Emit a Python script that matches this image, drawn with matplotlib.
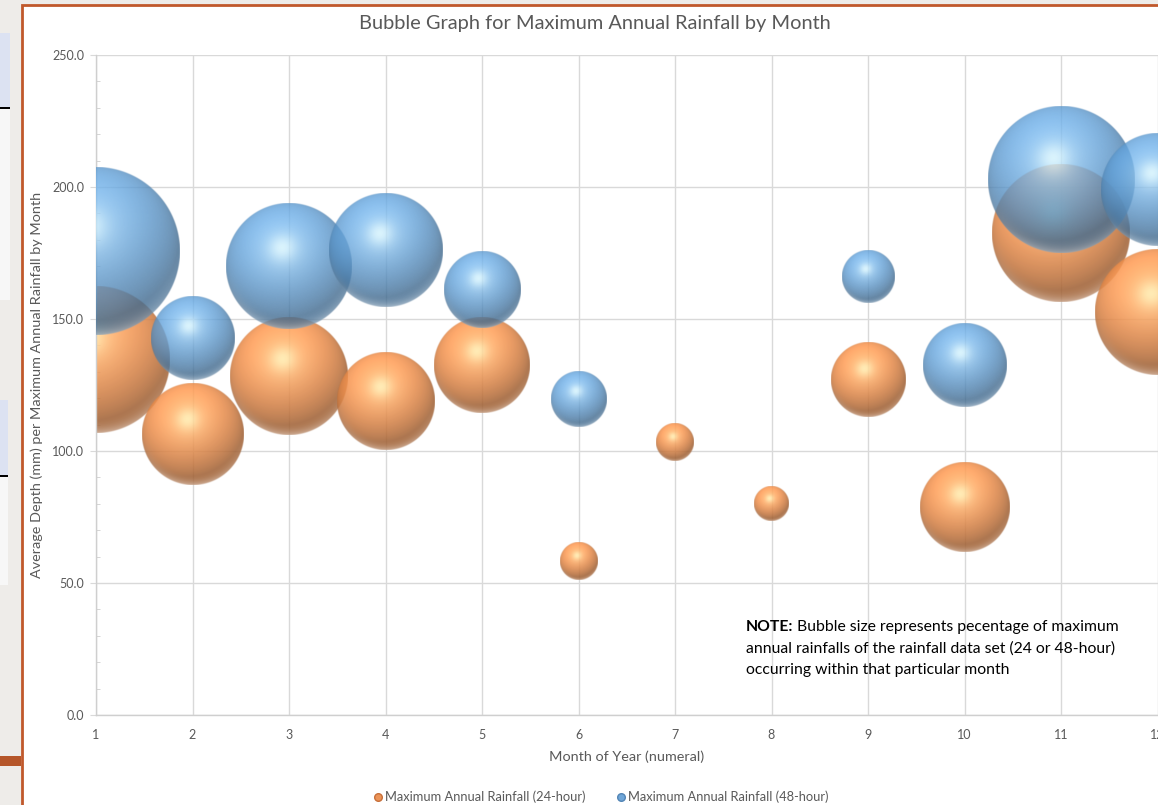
import numpy as np
import matplotlib
matplotlib.use("Agg")
import matplotlib.pyplot as plt
from matplotlib.patches import Rectangle
from matplotlib.lines import Line2D
from matplotlib.ticker import MultipleLocator, FormatStrFormatter

# ---- data -------------------------------------------------------------
months = np.arange(1, 13)
# average depth (mm) of the annual maxima falling in each month
depth_24h = [134.5, 106.6, 128.4, 118.8, 132.4, 58.3, 103.4, 79.9, 126.9, 78.8, 182.4, 152.7]
depth_48h = [175.8, 142.6, 169.9, 176.0, 161.0, 119.5, np.nan, np.nan, 166.1, 132.6, 202.8, 198.9]
# share (%) of annual maxima occurring in each month -> bubble area
share_24h = [18.3, 8.9, 11.9, 8.1, 7.9, 1.2, 1.2, 1.0, 4.7, 6.9, 16.1, 13.6]
share_48h = [24.2, 6.0, 13.6, 11.1, 5.0, 2.6, np.nan, np.nan, 2.4, 6.0, 18.3, 10.8]

label_24h = "Maximum Annual Rainfall (24-hour)"
label_48h = "Maximum Annual Rainfall (48-hour)"
month_ticks = list(range(1, 13))
depth_ticks = [0, 50, 100, 150, 200, 250]

title = "Bubble Graph for Maximum Annual Rainfall by Month"
xlabel = "Month of Year (numeral)"
ylabel = "Average Depth (mm) per Maximum Annual Rainfall by Month"
note_head = "NOTE:"
note_lines = ["Bubble size represents pecentage of maximum",
              "annual rainfalls of the rainfall data set (24 or 48-hour)",
              "occurring within that particular month"]

# ---- style ------------------------------------------------------------
plt.rcParams['font.family'] = ['Lato', 'DejaVu Sans']

ORANGE = np.array([243, 146, 78]) / 255
BLUE = np.array([97, 160, 216]) / 255
ORANGE_GLOW = np.array([255, 240, 178]) / 255
BLUE_GLOW = np.array([220, 248, 255]) / 255
TEXT_GREY = '#595959'
GRID = '#d9d9d9'

W, H, DPI = 1158, 805, 100
fig = plt.figure(figsize=(W / DPI, H / DPI), dpi=DPI)
fig.patch.set_facecolor('#eeece9')


def px_rect(x0, y0, x1, y1, **kw):
    """Rectangle given in figure pixels measured from the top-left corner."""
    fig.add_artist(Rectangle((x0 / W, 1 - y1 / H), (x1 - x0) / W, (y1 - y0) / H,
                             transform=fig.transFigure, zorder=-5, **kw))


# slide backdrop around the chart object
px_rect(0, 33, 10, 108, facecolor='#dce2f2', edgecolor='none')
px_rect(0, 107, 10, 109, facecolor='black', edgecolor='none')
px_rect(0, 109, 10, 300, facecolor='#f7f7f7', edgecolor='none')
px_rect(0, 400, 8, 476, facecolor='#dce2f2', edgecolor='none')
px_rect(0, 475, 8, 477, facecolor='black', edgecolor='none')
px_rect(0, 477, 8, 585, facecolor='#f7f7f7', edgecolor='none')
px_rect(0, 756, 21, 766, facecolor='#b5562a', edgecolor='none')
# chart area with its border (right/bottom edges run off the canvas)
px_rect(22, 5, W + 10, H + 10, facecolor='white', edgecolor='#c0582b', linewidth=2)

# ---- axes -------------------------------------------------------------
ax_left, ax_right, ax_top, ax_bottom = 96, 1157.5, 55, 715
ax = fig.add_axes([ax_left / W, 1 - ax_bottom / H,
                   (ax_right - ax_left) / W, (ax_bottom - ax_top) / H])
ax.set_facecolor('none')
ax.set_xlim(month_ticks[0], month_ticks[-1])
ax.set_ylim(depth_ticks[0], depth_ticks[-1])
ax.set_xticks(month_ticks)
ax.set_yticks(depth_ticks)
ax.yaxis.set_minor_locator(MultipleLocator(10))
ax.yaxis.set_major_formatter(FormatStrFormatter('%.1f'))
ax.set_axisbelow(True)
ax.grid(True, which='major', color=GRID, linewidth=1.0)
for side in ('top', 'right'):
    ax.spines[side].set_visible(False)
for side in ('left', 'bottom'):
    ax.spines[side].set_color('#cfcfcf')
    ax.spines[side].set_linewidth(1.0)
ax.tick_params(axis='y', which='major', direction='out', length=4.5, color=GRID,
               labelsize=9, labelcolor=TEXT_GREY, pad=4)
ax.tick_params(axis='y', which='minor', direction='in', length=3, color='#cfcfcf')
ax.tick_params(axis='x', which='major', length=0, labelsize=9,
               labelcolor=TEXT_GREY, pad=10)

fig.canvas.draw()
px0 = ax.transData.transform((0, 0))
px1 = ax.transData.transform((1, 1))
px_per_x = px1[0] - px0[0]
px_per_y = px1[1] - px0[1]
ax_h_px = ax.get_window_extent().height
max_share = np.nanmax(np.concatenate([share_24h, share_48h]))
max_radius_px = 0.2545 * ax_h_px / 2


def sphere_rgba(r_px, base, glow, alpha):
    """RGBA image of a lit, slightly translucent sphere."""
    n = max(int(4 * r_px), 24)
    lin = (np.arange(n) + 0.5) / n * 2 - 1
    u, v = np.meshgrid(lin, lin)
    d2 = u ** 2 + v ** 2
    d = np.sqrt(d2)
    nz = np.sqrt(np.clip(1 - d2, 0, 1))
    L = np.array([-0.2, 0.55, 0.80])
    L /= np.linalg.norm(L)
    diff = np.clip(u * L[0] + v * L[1] + nz * L[2], 0, 1)
    Hv = L + np.array([0, 0, 1.0])
    Hv /= np.linalg.norm(Hv)
    ndoth = np.clip(u * Hv[0] + v * Hv[1] + nz * Hv[2], 0, 1)
    spec = 0.55 * ndoth ** 40 + 0.35 * ndoth ** 8
    shade = 0.66 + 0.44 * diff
    rgb = base[None, None, :] * shade[..., None]
    rgb = np.clip(rgb, 0, 1)
    rgb = rgb + (glow - rgb) * np.clip(spec, 0, 1)[..., None]
    # soft bounce light along the lower rim
    rim = np.clip(-v, 0, 1) ** 1.5 * np.clip((d - 0.80) / 0.20, 0, 1) ** 2
    rgb = rgb + (1 - rgb) * (0.40 * rim)[..., None]
    a = np.clip((1 - d) * r_px + 0.5, 0, 1) * alpha
    return np.dstack([np.clip(rgb, 0, 1), a])


def draw_bubbles(xs, ys, shares, base, glow, alpha, z):
    for x, y, s in zip(xs, ys, shares):
        if np.isnan(y) or np.isnan(s):
            continue
        r_px = max_radius_px * np.sqrt(s / max_share)
        rx, ry = r_px / px_per_x, r_px / px_per_y
        ax.imshow(sphere_rgba(r_px, base, glow, alpha),
                  extent=(x - rx, x + rx, y - ry, y + ry), origin='lower',
                  interpolation='bilinear', aspect='auto', zorder=z)


draw_bubbles(months, depth_24h, share_24h, ORANGE, ORANGE_GLOW, 0.86, 2)
draw_bubbles(months, depth_48h, share_48h, BLUE, BLUE_GLOW, 0.80, 3)
ax.set_xlim(month_ticks[0], month_ticks[-1])
ax.set_ylim(depth_ticks[0], depth_ticks[-1])
ax.set_aspect('auto')

# ---- text -------------------------------------------------------------
fig.text(595 / W, 1 - 23 / H, title, ha='center', va='center',
         fontsize=14.4, color=TEXT_GREY)
fig.text((ax_left + ax_right) / 2 / W, 1 - 757 / H, xlabel, ha='center', va='center',
         fontsize=10.4, color=TEXT_GREY)
fig.text(37 / W, 1 - 385 / H, ylabel, ha='center', va='center', rotation=90,
         fontsize=10.4, color=TEXT_GREY)

# note block: bold lead-in followed by plain text, lines 21.5 px apart
note_x, note_y0, note_dy = 746, 627, 21.5
head = fig.text(note_x / W, 1 - note_y0 / H, note_head, ha='left', va='center',
                fontsize=11.3, fontweight='bold', color='black')
fig.canvas.draw()
head_w = head.get_window_extent().width
fig.text((note_x + head_w + 4) / W, 1 - note_y0 / H, note_lines[0], ha='left',
         va='center', fontsize=11.3, color='black')
for i, line in enumerate(note_lines[1:], start=1):
    fig.text(note_x / W, 1 - (note_y0 + i * note_dy) / H, line, ha='left',
             va='center', fontsize=11.3, color='black')

handles = [Line2D([], [], linestyle='none', marker='o', markersize=5.5,
                  markerfacecolor='#ec9458', markeredgecolor='#c8703a', label=label_24h),
           Line2D([], [], linestyle='none', marker='o', markersize=5.5,
                  markerfacecolor='#6fa6d8', markeredgecolor='#5385b5', label=label_48h)]
fig.legend(handles=handles, loc='center', bbox_to_anchor=(600 / W, 1 - 797 / H),
           ncol=2, frameon=False, fontsize=9.3, labelcolor=TEXT_GREY,
           handletextpad=0.1, columnspacing=2.2, handlelength=1.0)

fig.savefig('out.png', dpi=DPI, facecolor=fig.get_facecolor())
